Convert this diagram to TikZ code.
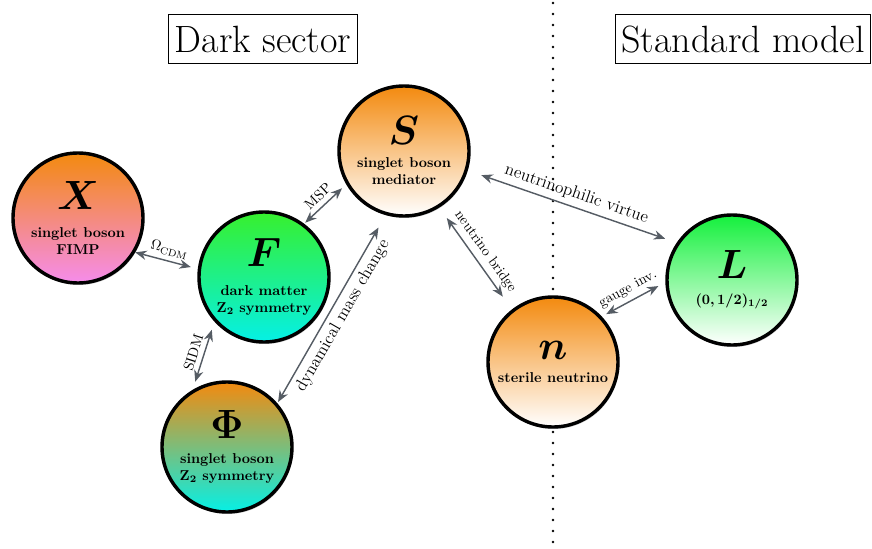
\documentclass[tikz,border=0pt]{standalone}
\usepackage{graphicx}
\usepackage{amsmath}
\usepackage{bm}
\usetikzlibrary{arrows.meta,shadows}
\definecolor{arrowgray}{HTML}{555C64}
\definecolor{orangetop}{RGB}{243,138,15}
\definecolor{pinkbottom}{RGB}{245,140,235}
\definecolor{greentop}{RGB}{55,240,45}
\definecolor{cyanbottom}{RGB}{5,240,230}
\definecolor{leptontop}{RGB}{20,240,60}
\newcommand{\bigsym}[1]{\scalebox{1.15}{\Huge$\bm{#1}$}}

\begin{document}
\begin{tikzpicture}[x=0.7pt, y=0.7pt,
    particle/.style={circle, draw=black, line width=2.4pt, minimum size=91pt,
      inner sep=0pt, align=center, font=\bfseries,
      drop shadow={shadow xshift=0.8pt, shadow yshift=-1.4pt, opacity=0.35}},
    link/.style={<->, >={Stealth[length=8pt, width=6.5pt]}, draw=arrowgray, line width=1pt},
    sector/.style={draw=black, line width=0.6pt, font=\fontsize{26.6}{30}\selectfont,
      inner xsep=4.2pt, inner ysep=7.5pt, text height=18.7pt, text depth=0pt}]
  \useasboundingbox (0,0) rectangle (872,548);
  % Define nodes
  \node[sector] (dark) at (263,509) {Dark sector};
  \node[sector] (sm) at (743,509) {Standard model};
  \coordinate (top) at (553,545);
  \coordinate (bottom) at (553,2);
  \draw[line width=2pt, line cap=round, dash pattern=on 0pt off 7.7pt] (top) -- (bottom);
  \node[particle, top color=orangetop, bottom color=pinkbottom] (X) at (78,330)
    {\bigsym{X}\\[8pt] singlet boson\\ FIMP};
  \node[particle, top color=greentop, bottom color=cyanbottom] (F) at (264,271)
    {\bigsym{F}\\[8pt] dark matter\\ Z\textsubscript{2} symmetry};
  \node[particle, top color=orangetop, bottom color=white] (S) at (404,397)
    {\bigsym{S}\\[4pt] singlet boson\\ mediator};
  \node[particle, top color=orangetop, bottom color=cyanbottom] (Phi) at (227,101)
    {\bigsym{\Phi}\\[5pt] singlet boson\\ Z\textsubscript{2} symmetry};
  \node[particle, top color=orangetop, bottom color=white] (n) at (553,186)
    {\bigsym{n}\\[4pt] sterile neutrino};
  \node[particle, top color=leptontop, bottom color=white] (L) at (732,268)
    {\bigsym{L}\\[6pt] $\bm{(0,1/2)_{1/2}}$};
  % Define edges
  \draw[link, shorten >=5pt] (X.-31) -- node[above, sloped] {$\Omega_{\mathrm{CDM}}$} (F.173);
  \draw[link, shorten <=1pt, shorten >=4pt] (F.53) -- node[above, sloped] {MSP} (S.210);
  \draw[link, shorten <=6pt, shorten >=6pt] (Phi.121) -- node[above, sloped] {SIDM} (F.222);
  \draw[link, shorten <=1pt, shorten >=10pt] (Phi.41) -- node[below, sloped, font=\large] {dynamical mass change} (S.254);
  \draw[link, shorten <=9pt, shorten >=11pt] (S.-58) -- node[above, sloped] {neutrino bridge} (n.128);
  \draw[link, shorten <=10pt, shorten >=8.5pt] (S.-17) -- node[above, sloped, font=\large] {neutrinophilic virtue} (L.146);
  \draw[link, shorten <=3.5pt, shorten >=5.5pt] (n.43) -- node[above, sloped] {gauge inv.} (L.182);
\end{tikzpicture}
\end{document}
